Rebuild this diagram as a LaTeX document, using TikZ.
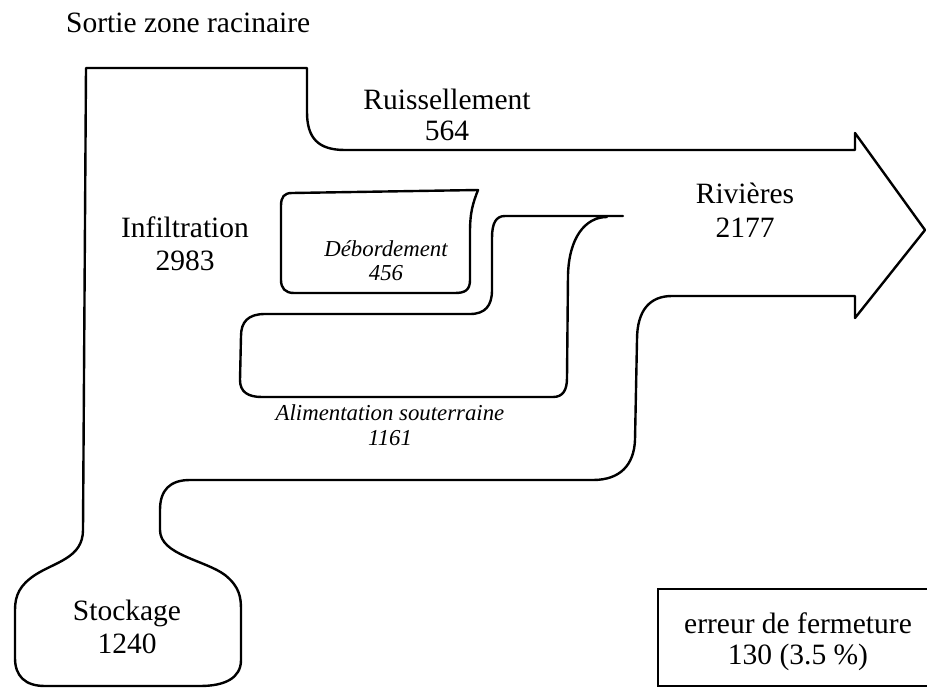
\documentclass[tikz,border=0pt]{standalone}
\usepackage{fontspec}
\setmainfont{Liberation Serif}
\begin{document}
\begin{tikzpicture}[x=1pt,y=-1pt,
  flow/.style={draw=black,line width=2.4pt,line join=round,line cap=round},
  lbl/.style={inner sep=0pt,anchor=base,font=\fontsize{29.5}{32}\selectfont},
  ilbl/.style={inner sep=0pt,anchor=base,font=\fontsize{22.8}{25}\selectfont\itshape},
  errbox/.style={draw=black,line width=1.1pt}]
\useasboundingbox (0,0) rectangle (927,688);
% main flow outline
\draw[flow] (86,68) -- (307,68) -- (307,112)
  .. controls (307,138) and (318,150) .. (345,150) -- (855,150) -- (855,133)
  -- (925,230) -- (855,318) -- (855,296) -- (672,296)
  .. controls (650,296) and (637,310) .. (637,340) -- (635,440)
  .. controls (634,465) and (620,480) .. (593,480) -- (190,480)
  .. controls (170,480) and (160,490) .. (160,510) -- (160,530)
  .. controls (160,555) and (205,560) .. (225,575)
  .. controls (240,587) and (241,598) .. (241,610) -- (241,660)
  .. controls (241,678) and (225,686) .. (200,686) -- (45,686)
  .. controls (25,686) and (15,676) .. (15,658) -- (15,610)
  .. controls (15,595) and (20,585) .. (35,575)
  .. controls (55,562) and (83,558) .. (83,530) -- cycle;
% Debordement
\draw[flow] (292,193) -- (478,190)
  .. controls (473,203) and (470,212) .. (470,232) -- (470,280)
  .. controls (470,290) and (465,293) .. (455,293) -- (294,293)
  .. controls (285,293) and (281,288) .. (281,280) -- (281,206)
  .. controls (281,197) and (284,193) .. (292,193) -- cycle;
% Alimentation souterraine
\draw[flow] (623,216) -- (505,216)
  .. controls (496,216) and (492,223) .. (492,238) -- (492,290)
  .. controls (492,306) and (485,314) .. (470,314) -- (265,314)
  .. controls (248,314) and (241,322) .. (241,336) -- (240,380)
  .. controls (240,392) and (248,397) .. (262,397) -- (553,397)
  .. controls (563,397) and (567,390) .. (567,378) -- (568,275)
  .. controls (569,238) and (585,217) .. (607,217);
% closure error box
\draw[errbox] (658,589) rectangle (935,686);
% labels
\node[lbl,anchor=base west] (sortie) at (66,32) {Sortie zone racinaire};
\node[lbl] (ruis) at (447,109) {Ruissellement};
\node[lbl] (ruisv) at (447,140) {564};
\node[lbl] (infil) at (185,237) {Infiltration};
\node[lbl] (infilv) at (185,270) {2983};
\node[ilbl] (debo) at (386,256) {Débordement};
\node[ilbl] (debov) at (386,280) {456};
\node[lbl] (riv) at (745,203) {Rivières};
\node[lbl] (rivv) at (745,237) {2177};
\node[ilbl] (alim) at (390,420) {Alimentation souterraine};
\node[ilbl] (alimv) at (390,445) {1161};
\node[lbl] (stock) at (127,620) {Stockage};
\node[lbl] (stockv) at (127,653) {1240};
\node[lbl] (err) at (798,633) {erreur de fermeture};
\node[lbl] (errv) at (798,664) {130 (3.5 \%)};
\end{tikzpicture}
\end{document}
